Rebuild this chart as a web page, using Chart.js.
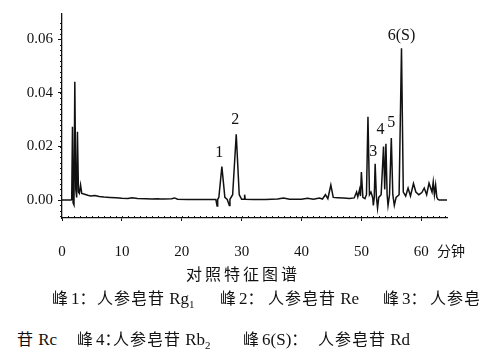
<!DOCTYPE html>
<html lang="zh-CN">
<head>
<meta charset="utf-8">
<script src="https://cdn.jsdelivr.net/npm/chart.js@4/dist/chart.umd.min.js"></script>
<style>
  body { margin: 0; background: #fff; }
  #wrap { position: relative; width: 500px; height: 359px; overflow: hidden; }
  #plot { position: absolute; left: 0; top: 0; }
  .txt { position: absolute; white-space: nowrap; color: #111; font-size: 16px;
         font-family: "Noto Sans CJK SC", sans-serif; letter-spacing: 1px; }
  .lat { font-family: "Liberation Serif", serif; font-size: 17px; letter-spacing: 0; }
  .lat sub { font-size: 11px; }
  .pk { letter-spacing: 0; }
  .pk .lat { margin-left: 3px; }
  .l1 { top: 285px; }
  .l2 { top: 326px; }
</style>
</head>
<body>
<div id="wrap">
  <canvas id="plot" width="500" height="260"></canvas>
  <div class="txt" style="left:437px; top:240px; font-size:14px; letter-spacing:0;">分钟</div>
  <div class="txt" style="left:186px; top:261px; letter-spacing:3px;">对照特征图谱</div>

  <div class="txt pk l1" style="left:52px;">峰<span class="lat">1</span>：</div>
  <div class="txt l1" style="left:97px;">人参皂苷<span class="lat"> Rg<sub>1</sub></span></div>
  <div class="txt pk l1" style="left:220px;">峰<span class="lat">2</span>：</div>
  <div class="txt l1" style="left:268px;">人参皂苷<span class="lat"> Re</span></div>
  <div class="txt pk l1" style="left:383px;">峰<span class="lat">3</span>：</div>
  <div class="txt l1" style="left:430px;">人参皂</div>

  <div class="txt l2" style="left:17px;">苷<span class="lat"> Rc</span></div>
  <div class="txt pk l2" style="left:77px;">峰<span class="lat">4</span>：</div>
  <div class="txt l2" style="left:113px;">人参皂苷<span class="lat"> Rb<sub>2</sub></span></div>
  <div class="txt pk l2" style="left:243px;">峰<span class="lat">6(S)</span>：</div>
  <div class="txt l2" style="left:318px;">人参皂苷<span class="lat"> Rd</span></div>
</div>
<script>
// chromatogram trace (minutes, absorbance)
const timeMin = [
  0, 1.5, 1.62, 1.75, 1.85, 2.0, 2.14, 2.3, 2.45, 2.58, 2.75, 2.9, 3.1, 3.3, 3.8, 4.3,
  4.8, 5.5, 6.2, 7.0, 8.0, 9.0, 10, 11, 11.7, 12.6, 14, 15, 16, 16.4, 17, 18.3, 18.8, 19.3,
  21, 23, 25, 25.7, 25.9, 26.0, 26.2, 26.7, 27.2, 27.6, 27.95, 28.05, 28.5, 29.1, 29.6,
  30.0, 30.4, 30.5, 30.6, 32, 34, 36, 37, 38, 40, 41, 42, 43, 43.5, 44, 44.4, 44.9, 45.3,
  46, 47, 48, 48.8, 49.2, 49.4, 49.7, 49.85, 50.0, 50.25, 50.6, 50.85, 51.1, 51.35, 51.6,
  51.9, 52.0, 52.15, 52.3, 52.5, 52.7, 52.9, 53.3, 53.7, 53.9, 54.1, 54.3, 54.45, 54.7,
  55.0, 55.25, 55.5, 55.8, 56.3, 56.7, 57.0, 57.4, 57.8, 58.2, 58.7, 59.1, 59.6, 60.1,
  60.5, 60.9, 61.3, 61.8, 62.0, 62.2, 62.4, 62.6, 62.8, 63.0, 64.3
];
const absorbance = [
  0, 0, 0.0002, 0.0274, -0.001, -0.0018, 0.0442, 0.004, 0.001, 0.0255, 0.003, 0.0025, 0.0056, 0.0025, 0.0022, 0.0018,
  0.0015, 0.0017, 0.0013, 0.0011, 0.001, 0.0009, 0.0007, 0.0006, 0.0009, 0.0006, 0.0005, 0.0004, 0.0005, 0.0004, 0.0004, 0.0005, 0.0008, 0.0003,
  0.0002, 0.0002, 0.0002, 0.0002, -0.0022, 0.0002, 0.001, 0.0125, 0.001, 0.0002, -0.002, 0.0003, 0.002, 0.0246, 0.002,
  0.0003, 0.0003, 0.002, 0.0003, 0.0002, 0.0002, 0.0004, 0.0008, 0.0003, 0.0003, 0.0007, 0.0003, 0.0008, 0.0004, 0.002, 0.0005, 0.0056, 0.001,
  0.0009, 0.0008, 0.0006, 0.0008, 0.003, 0.0012, 0.004, 0.0015, 0.0105, 0.001, 0.0005, 0.002, 0.0311, 0.002, 0.003,
  0.0008, -0.002, 0.001, 0.0136, 0.0015, -0.003, 0.001, 0.002, 0.0200, 0.004, 0.021, 0.002, -0.002, 0.002,
  0.0232, 0.002, -0.002, 0.001, 0.002, 0.0567, 0.003, 0.0015, 0.0045, 0.0015, 0.0062, 0.003, 0.002, 0.0028,
  0.0045, 0.002, 0.0063, 0.003, 0.0068, 0.002, 0.0056, 0.001, 0.0002, 0, 0
];
const xTicks = [0, 10, 20, 30, 40, 50, 60];
const yTicks = [0, 0.02, 0.04, 0.06];
const peakNames = ['1', '2', '3', '4', '5', '6(S)'];
const peakTimes = [26.7, 29.1, 52.3, 53.7, 55.0, 56.7];

const points = timeMin.map((t, i) => ({ x: t, y: absorbance[i] }));

// peak labels and minor axis ticks
const decorPlugin = {
  id: 'decor',
  afterDraw(chart) {
    const { ctx, scales: { x, y } } = chart;
    ctx.save();
    ctx.strokeStyle = '#111';
    ctx.lineWidth = 1;
    ctx.beginPath();
    for (let v = -0.006; v <= 0.068; v += 0.002) {
      const py = Math.round(y.getPixelForValue(v)) + 0.5;
      ctx.moveTo(x.left - 2, py); ctx.lineTo(x.left, py);
    }
    for (let t = 1; t <= 64; t++) {
      const px = Math.round(x.getPixelForValue(t)) + 0.5;
      ctx.moveTo(px, y.bottom); ctx.lineTo(px, y.bottom - 2);
    }
    ctx.stroke();

    const offs = [[-2.5, -6], [-1, -6], [-2, -4], [-3, -9], [0, -7], [0, -4]];
    ctx.fillStyle = '#111';
    ctx.font = '16px "Liberation Serif"';
    ctx.textAlign = 'center';
    ctx.textBaseline = 'bottom';
    peakNames.forEach((name, i) => {
      const idx = timeMin.indexOf(peakTimes[i]);
      const px = x.getPixelForValue(peakTimes[i]) + offs[i][0];
      const py = y.getPixelForValue(absorbance[idx]) + offs[i][1];
      ctx.fillText(name, px, py);
    });
    ctx.restore();
  }
};

new Chart(document.getElementById('plot'), {
  type: 'line',
  data: {
    datasets: [{
      data: points,
      borderColor: '#111',
      borderWidth: 1.5,
      pointRadius: 0,
      tension: 0,
      fill: false
    }]
  },
  options: {
    responsive: false,
    animation: false,
    layout: { padding: { top: 14, right: 53, left: 0, bottom: 0 } },
    plugins: { legend: { display: false }, tooltip: { enabled: false } },
    scales: {
      x: {
        type: 'linear',
        min: 0,
        max: 64.3,
        afterBuildTicks: s => { s.ticks = xTicks.map(v => ({ value: v })); },
        afterFit: s => { s.height = 42; },
        border: { display: true, color: '#111', width: 1.3 },
        grid: { display: true, drawOnChartArea: false, color: '#111', tickLength: 3 },
        ticks: { color: '#111', padding: 22, maxRotation: 0,
                 font: { family: 'Liberation Serif', size: 15 } }
      },
      y: {
        min: -0.0067,
        max: 0.0695,
        afterBuildTicks: s => { s.ticks = yTicks.map(v => ({ value: v })); },
        afterFit: s => { s.width = 62; },
        border: { display: true, color: '#111', width: 1.3 },
        grid: { display: true, drawOnChartArea: false, color: '#111', tickLength: 4 },
        ticks: { color: '#111', padding: 5,
                 callback: v => v.toFixed(2),
                 font: { family: 'Liberation Serif', size: 15 } }
      }
    }
  },
  plugins: [decorPlugin]
});
</script>
</body>
</html>
